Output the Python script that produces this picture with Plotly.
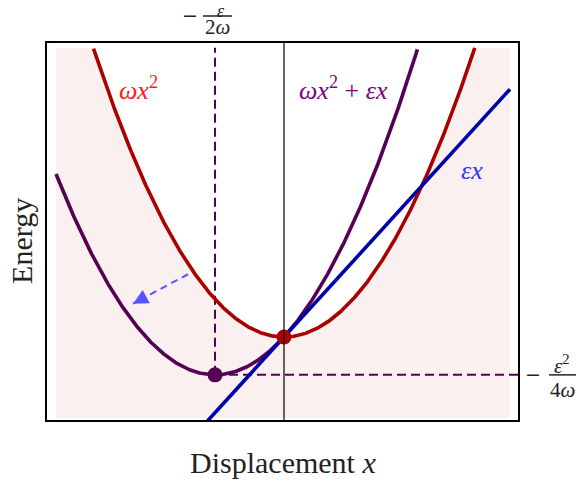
import numpy as np
import plotly.graph_objects as go

# Model parameters: stiffness omega and linear coupling epsilon
omega = 1.0
eps = 1.38

# Drawing domain of the curves / shaded band, and the axis window
x_lo, x_hi = -2.28, 2.26
y_lo, y_hi = -1.02, 3.64
x_range = [-2.37, 2.34]
y_range = [-1.044, 3.70]

# Displacement arrow (tail -> tip)
arrow_x = [-0.96, -1.51]
arrow_y = [0.79, 0.42]

xs = np.linspace(x_lo, x_hi, 800)
quad = omega * xs ** 2
shifted = quad + eps * xs
linear = eps * xs


def clip_top(v):
    v = v.astype(float).copy()
    v[v > y_hi] = np.nan
    return v


x_min = -eps / (2 * omega)
e_min = -eps ** 2 / (4 * omega)

RED = "#aa0000"
PURPLE = "#550055"
BLUE = "#0000aa"
INK = "#222222"
SERIF = "Liberation Serif"

fig = go.Figure()

# Light shading everywhere below the bare parabola
xr = np.sqrt(y_hi / omega)
arc = np.linspace(-xr, xr, 400)
fx = [x_lo, x_lo] + list(arc) + [x_hi, x_hi, x_lo]
fy = [y_lo, y_hi] + list(omega * arc ** 2) + [y_hi, y_lo, y_lo]
fig.add_trace(go.Scatter(x=fx, y=fy, mode="lines", fill="toself",
                         fillcolor="#f9f0ef", line=dict(width=0),
                         hoverinfo="skip"))

# Guides to the shifted minimum
fig.add_trace(go.Scatter(x=[x_min, x_min], y=[e_min, y_hi], mode="lines",
                         line=dict(color=PURPLE, width=2, dash="9px,5px")))
fig.add_trace(go.Scatter(x=[x_min, x_range[1]], y=[e_min, e_min], mode="lines",
                         line=dict(color=PURPLE, width=2, dash="9px,5px")))

# Energy curves
fig.add_trace(go.Scatter(x=xs, y=clip_top(quad), mode="lines",
                         line=dict(color=RED, width=3.6)))
fig.add_trace(go.Scatter(x=xs, y=clip_top(shifted), mode="lines",
                         line=dict(color=PURPLE, width=3.6)))
fig.add_trace(go.Scatter(x=xs, y=linear, mode="lines",
                         line=dict(color=BLUE, width=3.6)))

# Minima
fig.add_trace(go.Scatter(x=[0, x_min], y=[0, e_min], mode="markers",
                         marker=dict(size=15, color=[RED, PURPLE])))

# Dashed displacement arrow
fig.add_trace(go.Scatter(x=arrow_x, y=arrow_y, mode="lines",
                         line=dict(color="#5555ff", width=2, dash="7px,5px")))
tip_frac = 0.82
fig.add_annotation(x=arrow_x[1], y=arrow_y[1], xref="x", yref="y",
                   ax=arrow_x[0] + tip_frac * (arrow_x[1] - arrow_x[0]),
                   ay=arrow_y[0] + tip_frac * (arrow_y[1] - arrow_y[0]),
                   axref="x", ayref="y", text="", showarrow=True,
                   arrowhead=2, arrowsize=1.5, arrowwidth=2,
                   arrowcolor="#5555ff", standoff=0)

# Zero-displacement line
fig.add_shape(type="line", xref="x", yref="paper", x0=0, x1=0, y0=0, y1=1,
              line=dict(color="black", width=1.2), layer="above")

# Curve labels
lab = dict(family=SERIF, size=26)
fig.add_annotation(x=-1.46, y=3.13, text="<i>ωx</i><sup>2</sup>",
                   showarrow=False, font=dict(lab, color="#ff1a1a"))
fig.add_annotation(x=0.59, y=3.13, text="<i>ωx</i><sup>2</sup> + <i>εx</i>",
                   showarrow=False, font=dict(lab, color="#800080"))
fig.add_annotation(x=1.88, y=2.10, text="<i>εx</i>",
                   showarrow=False, font=dict(lab, color="#3333ff"))


def put(text, size, family=SERIF, **kw):
    fig.add_annotation(text=text, showarrow=False, xanchor="center",
                       yanchor="middle", font=dict(family=family, size=size,
                                                   color=INK), **kw)


# Fraction label above the plot: -eps/(2 omega)
top = dict(x=x_min, xref="x", y=1, yref="paper")
put("−", 19, family="DejaVu Serif", xshift=-25, yshift=28, **top)
put("<i>ε</i>", 18, xshift=6, yshift=32, **top)
put("2<i>ω</i>", 21, xshift=2.5, yshift=16, **top)
fig.add_shape(type="line", xref="x", yref="paper", xsizemode="pixel",
              ysizemode="pixel", xanchor=x_min, yanchor=1,
              x0=-12, x1=17, y0=27, y1=27, line=dict(color=INK, width=1.5))

# Fraction label right of the plot: -eps^2/(4 omega)
side = dict(x=1, xref="paper", y=e_min, yref="y")
put("−", 19, family="DejaVu Serif", xshift=15, yshift=1, **side)
put("<i>ε</i><sup>2</sup>", 21, xshift=44, yshift=10, **side)
put("4<i>ω</i>", 21, xshift=44, yshift=-15, **side)
fig.add_shape(type="line", xref="paper", yref="y", xsizemode="pixel",
              ysizemode="pixel", xanchor=1, yanchor=e_min,
              x0=31, x1=58, y0=0, y1=0, line=dict(color=INK, width=1.5))

# Axis titles
put("Displacement <i>x</i>", 30, x=0.5, xref="paper", y=0, yref="paper",
    yshift=-42)
put("Energy", 30, x=0, xref="paper", y=0.475, yref="paper", xshift=-25,
    textangle=-90)

axis = dict(showgrid=False, zeroline=False, showticklabels=False, ticks="",
            showline=True, mirror=True, linecolor="black", linewidth=1.5)
fig.update_xaxes(axis, range=x_range)
fig.update_yaxes(axis, range=y_range)
fig.update_layout(width=576, height=482, showlegend=False,
                  margin=dict(l=47, r=58, t=43, b=62),
                  plot_bgcolor="white", paper_bgcolor="white")

fig.write_html("out.html")
